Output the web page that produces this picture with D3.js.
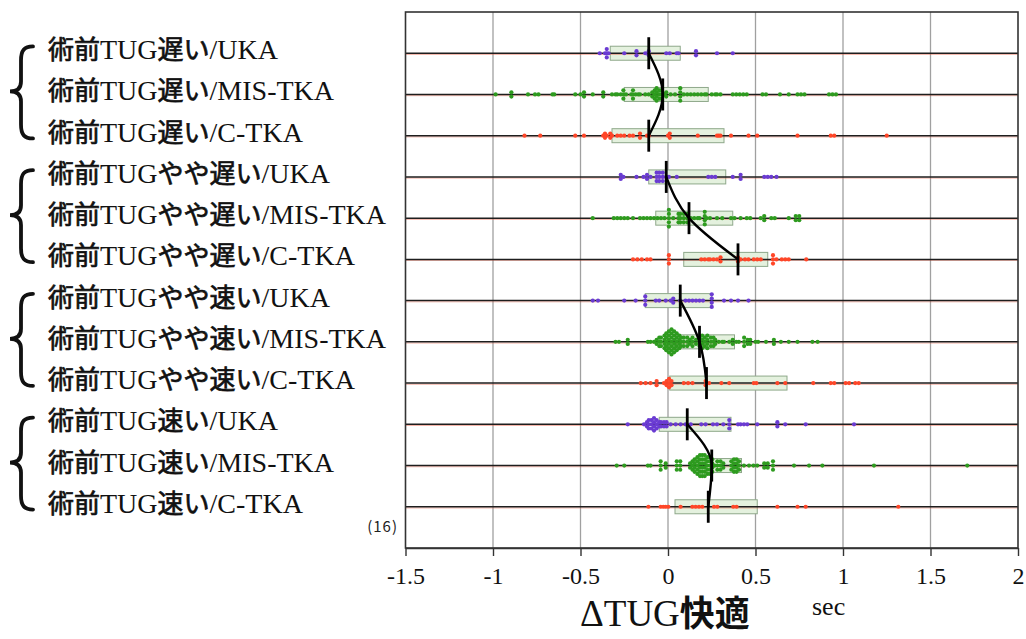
<!DOCTYPE html>
<html>
<head>
<meta charset="utf-8">
<script src="https://cdn.jsdelivr.net/npm/d3@7"></script>
<style>
  body { margin: 0; background: #fff; }
</style>
</head>
<body>
<svg id="chart" width="1026" height="639"></svg>
<script>
// ---- categories ----
const speedGroups = ["遅い", "やや遅い", "やや速い", "速い"];
const surgeries = ["UKA", "MIS-TKA", "C-TKA"];
const xTicks = [-1.5, -1, -0.5, 0, 0.5, 1, 1.5, 2];

// ---- ΔTUG (sec) per patient, one array per row ----
const slowUKA = [-0.39, -0.36, -0.35, -0.35, -0.35, -0.34, -0.25, -0.18, -0.18, -0.13, -0.11, -0.11, -0.01, 0.01, 0.05, 0.06, 0.16, 0.16, 0.28, 0.37];
const slowMIS = [-0.985, -0.895, -0.895, -0.80, -0.76, -0.74, -0.66, -0.65, -0.53, -0.50, -0.48, -0.48, -0.43, -0.37, -0.37, -0.32, -0.30, -0.29, -0.27, -0.255, -0.255, -0.255, -0.24, -0.21, -0.20, -0.20, -0.20, -0.185, -0.17, -0.16, -0.13, -0.11, -0.09, -0.09, -0.076, -0.076, -0.076, -0.065, -0.065, -0.065, -0.065, -0.05, -0.05, -0.05, -0.04, -0.04, -0.04, -0.02, -0.01, -0.01, 0.015, 0.04, 0.07, 0.07, 0.07, 0.07, 0.09, 0.11, 0.13, 0.15, 0.17, 0.19, 0.21, 0.22, 0.25, 0.27, 0.28, 0.30, 0.37, 0.39, 0.41, 0.43, 0.45, 0.54, 0.56, 0.64, 0.69, 0.74, 0.76, 0.78, 0.92, 0.94, 0.96];
const slowCTKA = [-0.82, -0.73, -0.53, -0.48, -0.37, -0.36, -0.36, -0.35, -0.33, -0.33, -0.32, -0.29, -0.27, -0.25, -0.22, -0.20, -0.16, -0.16, -0.12, -0.11, 0.0, 0.01, 0.01, 0.17, 0.28, 0.29, 0.30, 0.36, 0.46, 0.51, 0.74, 0.93, 0.95, 1.25];
const ratherSlowUKA = [-0.27, -0.27, -0.255, -0.18, -0.14, -0.12, -0.12, -0.10, -0.065, -0.065, -0.065, -0.05, -0.05, -0.05, -0.03, -0.03, -0.03, -0.01, 0.005, 0.05, 0.23, 0.25, 0.27, 0.37, 0.415, 0.415, 0.55, 0.57, 0.59, 0.62];
const ratherSlowMIS = [-0.43, -0.31, -0.29, -0.27, -0.25, -0.23, -0.20, -0.16, -0.14, -0.12, -0.10, -0.08, -0.06, -0.04, -0.02, 0.005, 0.005, 0.005, 0.005, 0.005, 0.03, 0.06, 0.06, 0.06, 0.07, 0.07, 0.07, 0.09, 0.09, 0.09, 0.11, 0.11, 0.11, 0.13, 0.15, 0.17, 0.18, 0.21, 0.21, 0.21, 0.21, 0.22, 0.24, 0.28, 0.31, 0.36, 0.38, 0.415, 0.45, 0.47, 0.53, 0.55, 0.55, 0.59, 0.61, 0.69, 0.73, 0.73, 0.75, 0.75];
const ratherSlowCTKA = [-0.20, -0.175, -0.15, -0.12, -0.10, 0.005, 0.005, 0.005, 0.19, 0.21, 0.23, 0.24, 0.26, 0.28, 0.30, 0.30, 0.40, 0.40, 0.415, 0.44, 0.46, 0.49, 0.51, 0.53, 0.60, 0.60, 0.60, 0.62, 0.65, 0.67, 0.69, 0.79];
const ratherFastUKA = [-0.43, -0.40, -0.25, -0.185, -0.13, -0.13, -0.13, -0.07, -0.05, -0.013, 0.015, 0.03, 0.03, 0.07, 0.10, 0.12, 0.14, 0.16, 0.18, 0.20, 0.25, 0.25, 0.25, 0.25, 0.32, 0.36, 0.40, 0.46];
const ratherFastMIS = [-0.30, -0.28, -0.23, -0.23, -0.115, -0.10, -0.08, -0.065, -0.065, -0.05, -0.05, -0.05, -0.04, -0.04, -0.04, -0.02, -0.02, -0.02, -0.02, -0.01, -0.01, -0.01, -0.01, -0.01, 0.005, 0.005, 0.005, 0.005, 0.005, 0.005, 0.02, 0.02, 0.02, 0.02, 0.02, 0.02, 0.02, 0.035, 0.035, 0.035, 0.035, 0.035, 0.035, 0.05, 0.05, 0.05, 0.05, 0.05, 0.065, 0.065, 0.065, 0.065, 0.075, 0.075, 0.075, 0.09, 0.09, 0.09, 0.11, 0.11, 0.11, 0.125, 0.125, 0.14, 0.14, 0.14, 0.16, 0.16, 0.18, 0.18, 0.18, 0.195, 0.195, 0.195, 0.195, 0.21, 0.21, 0.21, 0.225, 0.225, 0.225, 0.225, 0.245, 0.245, 0.245, 0.26, 0.26, 0.26, 0.27, 0.27, 0.29, 0.31, 0.32, 0.35, 0.37, 0.37, 0.39, 0.405, 0.435, 0.435, 0.435, 0.455, 0.455, 0.47, 0.47, 0.50, 0.515, 0.56, 0.605, 0.605, 0.645, 0.69, 0.74, 0.825, 0.855];
const ratherFastCTKA = [-0.156, -0.128, -0.10, -0.065, -0.065, -0.023, -0.008, -0.008, 0.006, 0.006, 0.006, 0.02, 0.02, 0.09, 0.115, 0.14, 0.215, 0.215, 0.235, 0.305, 0.35, 0.49, 0.505, 0.625, 0.67, 0.83, 0.93, 0.95, 1.015, 1.035, 1.07, 1.09];
const fastUKA = [-0.23, -0.137, -0.12, -0.12, -0.11, -0.11, -0.11, -0.095, -0.095, -0.095, -0.08, -0.08, -0.08, -0.08, -0.065, -0.065, -0.065, -0.05, -0.05, -0.04, -0.04, -0.023, -0.023, -0.008, -0.008, 0.015, 0.044, 0.072, 0.10, 0.13, 0.19, 0.215, 0.257, 0.28, 0.316, 0.35, 0.35, 0.35, 0.40, 0.415, 0.434, 0.453, 0.51, 0.625, 0.625, 0.67, 0.787, 1.063];
const fastMIS = [-0.293, -0.25, -0.115, -0.10, -0.042, -0.042, -0.042, -0.013, -0.013, 0.05, 0.05, 0.05, 0.07, 0.07, 0.07, 0.126, 0.126, 0.14, 0.14, 0.14, 0.152, 0.152, 0.152, 0.152, 0.168, 0.168, 0.168, 0.168, 0.168, 0.183, 0.183, 0.183, 0.183, 0.183, 0.183, 0.196, 0.196, 0.196, 0.196, 0.196, 0.196, 0.21, 0.21, 0.21, 0.21, 0.21, 0.21, 0.225, 0.225, 0.225, 0.225, 0.225, 0.24, 0.24, 0.24, 0.24, 0.24, 0.253, 0.253, 0.253, 0.253, 0.267, 0.282, 0.282, 0.282, 0.30, 0.30, 0.30, 0.316, 0.316, 0.362, 0.362, 0.362, 0.377, 0.377, 0.377, 0.377, 0.392, 0.392, 0.392, 0.392, 0.406, 0.406, 0.406, 0.434, 0.463, 0.488, 0.51, 0.55, 0.55, 0.57, 0.57, 0.60, 0.60, 0.60, 0.72, 0.806, 0.882, 1.177, 1.71];
const fastCTKA = [-0.112, -0.042, -0.027, -0.013, 0.002, 0.072, 0.139, 0.158, 0.177, 0.196, 0.263, 0.282, 0.373, 0.392, 0.625, 0.74, 0.787, 1.316];

// ---- box (quartiles) and median per row ----
const q1 = [-0.33, -0.25, -0.32, -0.11, -0.07, 0.09, -0.13, 0.05, 0.01, -0.05, 0.15, 0.04];
const q3 = [0.07, 0.23, 0.32, 0.33, 0.37, 0.57, 0.25, 0.38, 0.68, 0.36, 0.42, 0.51];
const medians = [-0.11, -0.03, -0.11, -0.01, 0.12, 0.40, 0.07, 0.18, 0.22, 0.11, 0.25, 0.23];

const rowPoints = [slowUKA, slowMIS, slowCTKA, ratherSlowUKA, ratherSlowMIS, ratherSlowCTKA,
                   ratherFastUKA, ratherFastMIS, ratherFastCTKA, fastUKA, fastMIS, fastCTKA];

const surgeryColor = { "UKA": "#6a3bd2", "MIS-TKA": "#2e9b1f", "C-TKA": "#ff4628" };

const rows = [];
speedGroups.forEach((g, gi) => surgeries.forEach((s, si) => {
  const i = gi * 3 + si;
  rows.push({ i, group: gi, surgery: s, label: `術前TUG${g}/${s}`,
              values: rowPoints[i], q1: q1[i], q3: q3[i], median: medians[i] });
}));

// ---- layout ----
const svg = d3.select("#chart");
const plot = { left: 405.5, right: 1018, top: 12, bottom: 548 };
const x = d3.scaleLinear().domain([-1.5, 2]).range([plot.left, plot.right]);
const y = d3.scaleLinear().domain([0, rows.length + 1]).range([plot.top, plot.bottom]);
const rowY = r => y(r.i + 1);

svg.append("rect").attr("width", 1026).attr("height", 639).attr("fill", "#fff");

// vertical grid lines
svg.append("g").selectAll("line")
  .data(xTicks.filter(t => t > -1.5 && t < 2))
  .join("line")
  .attr("x1", d => x(d)).attr("x2", d => x(d))
  .attr("y1", plot.top).attr("y2", plot.bottom)
  .attr("stroke", "#a0a0a0").attr("stroke-width", 1.3);

// boxes
svg.append("g").selectAll("rect")
  .data(rows)
  .join("rect")
  .attr("x", d => x(d.q1))
  .attr("width", d => x(d.q3) - x(d.q1))
  .attr("y", d => rowY(d) - 7)
  .attr("height", 14)
  .attr("fill", "#e4f1de")
  .attr("stroke", "#8ea88a")
  .attr("stroke-width", 1);

// row baselines
const base = svg.append("g");
base.selectAll("line.red")
  .data(rows).join("line").attr("class", "red")
  .attr("x1", plot.left).attr("x2", plot.right)
  .attr("y1", d => rowY(d) + 1.2).attr("y2", d => rowY(d) + 1.2)
  .attr("stroke", "#e8553a").attr("stroke-width", 0.8).attr("opacity", 0.55);
base.selectAll("line.blk")
  .data(rows).join("line").attr("class", "blk")
  .attr("x1", plot.left).attr("x2", plot.right)
  .attr("y1", d => rowY(d)).attr("y2", d => rowY(d))
  .attr("stroke", "#1e1e1e").attr("stroke-width", 1.5);

// dots, stacked vertically where values coincide
const dotStep = 4.2;
const dots = [];
rows.forEach(r => {
  const counts = d3.rollup(r.values, v => v.length, v => v);
  const seen = new Map();
  r.values.forEach(v => {
    const n = counts.get(v);
    const k = seen.get(v) || 0;
    seen.set(v, k + 1);
    dots.push({ row: r, v, dy: (k - (n - 1) / 2) * dotStep });
  });
});
svg.append("g").selectAll("circle")
  .data(dots)
  .join("circle")
  .attr("cx", d => x(d.v))
  .attr("cy", d => rowY(d.row) + d.dy)
  .attr("r", 2.1)
  .attr("fill", d => surgeryColor[d.row.surgery]);

// median connectors per speed group
const connector = d3.line().x(d => x(d.median)).y(d => rowY(d)).curve(d3.curveMonotoneY);
svg.append("g").selectAll("path")
  .data(d3.groups(rows, r => r.group).map(g => g[1]))
  .join("path")
  .attr("d", connector)
  .attr("fill", "none")
  .attr("stroke", "#000")
  .attr("stroke-width", 2.4);

// median ticks
svg.append("g").selectAll("line")
  .data(rows)
  .join("line")
  .attr("x1", d => x(d.median)).attr("x2", d => x(d.median))
  .attr("y1", d => rowY(d) - 16).attr("y2", d => rowY(d) + 16)
  .attr("stroke", "#000").attr("stroke-width", 2.8);

// plot frame
svg.append("rect")
  .attr("x", plot.left).attr("y", plot.top)
  .attr("width", plot.right - plot.left).attr("height", plot.bottom - plot.top)
  .attr("fill", "none").attr("stroke", "#333").attr("stroke-width", 1.6);

// x axis
const axis = svg.append("g")
  .attr("transform", `translate(0,${plot.bottom})`)
  .call(d3.axisBottom(x).tickValues(xTicks).tickSize(8).tickSizeOuter(0).tickPadding(11)
        .tickFormat(d => String(d)));
axis.select(".domain").attr("stroke", "#333").attr("stroke-width", 1.6);
axis.selectAll(".tick line").attr("stroke", "#333").attr("stroke-width", 1.4);
axis.selectAll(".tick text")
  .attr("font-family", "'Liberation Serif', serif")
  .attr("font-size", 24).attr("fill", "#111");

// mixed Latin / CJK text helper; CJK parts get a thin outline for a medium weight
const cjkRe = /[\u3040-\u30ff\u3400-\u9fff]+|[^\u3040-\u30ff\u3400-\u9fff]+/g;
function mixedText(sel, str, latinSize, cjkSize, cjkWeight, cjkStroke) {
  str.match(cjkRe).forEach(seg => {
    const isCjk = /[\u3040-\u30ff\u3400-\u9fff]/.test(seg);
    const t = sel.append("tspan")
      .attr("font-family", isCjk ? "'Noto Sans CJK JP', sans-serif" : "'Liberation Serif', serif")
      .attr("font-size", isCjk ? cjkSize : latinSize)
      .attr("font-weight", isCjk ? cjkWeight : 400)
      .text(seg);
    if (isCjk && cjkStroke) t.attr("stroke", "#111").attr("stroke-width", cjkStroke);
  });
}

// row labels
svg.append("g").selectAll("text")
  .data(rows)
  .join("text")
  .attr("x", 48)
  .attr("y", d => rowY(d) + 6)
  .attr("fill", "#111")
  .each(function (d) { mixedText(d3.select(this), d.label, 28, 26, 400, 0.7); });

// braces grouping the speed categories
function bracePath(ym) {
  const top = ym - 48, bot = ym + 44, mid = ym - 3;
  const xs = 21, xe = 33, xt = 10;
  return `M${xe},${top} C${xs + 3},${top} ${xs},${top + 4} ${xs},${top + 14}
          L${xs},${mid - 10} C${xs},${mid - 3} ${xs - 4},${mid} ${xt},${mid}
          C${xs - 4},${mid} ${xs},${mid + 3} ${xs},${mid + 10}
          L${xs},${bot - 14} C${xs},${bot - 4} ${xs + 3},${bot} ${xe},${bot}`;
}
svg.append("g").selectAll("path")
  .data(speedGroups.map((g, gi) => y(gi * 3 + 2)))
  .join("path")
  .attr("d", d => bracePath(d))
  .attr("fill", "none")
  .attr("stroke", "#111")
  .attr("stroke-width", 3.8)
  .attr("stroke-linecap", "round");

// figure number
svg.append("text")
  .attr("x", 398).attr("y", 532)
  .attr("text-anchor", "end")
  .attr("font-family", "'Noto Sans CJK JP', sans-serif")
  .attr("font-size", 15).attr("letter-spacing", 1).attr("fill", "#222")
  .text("(16)");

// axis title
const title = svg.append("text")
  .attr("x", 580).attr("y", 626)
  .attr("fill", "#111");
mixedText(title, "ΔTUG快適", 37, 35, 700, 0);

svg.append("text")
  .attr("x", 812).attr("y", 615)
  .attr("font-family", "'Liberation Serif', serif")
  .attr("font-size", 26).attr("fill", "#111")
  .text("sec");
</script>
</body>
</html>
